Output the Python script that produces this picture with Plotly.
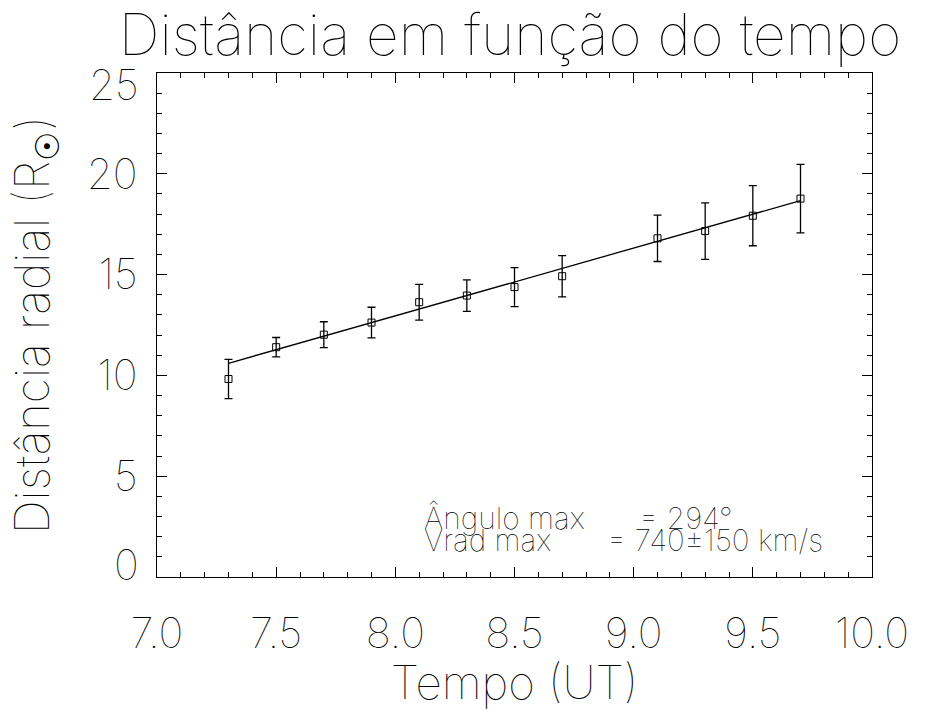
import plotly.graph_objects as go

# Observed radial distance of the front versus time
tempo = [7.3, 7.5, 7.7, 7.9, 8.1, 8.3, 8.5, 8.7, 9.1, 9.3, 9.5, 9.7]
distancia = [9.82, 11.40, 12.02, 12.62, 13.63, 13.96, 14.38, 14.92, 16.80, 17.16, 17.92, 18.77]
erro = [0.97, 0.48, 0.64, 0.76, 0.89, 0.78, 0.97, 1.02, 1.15, 1.40, 1.49, 1.70]

# Linear fit endpoints
ajuste_t = [7.3, 9.7]
ajuste_d = [10.60, 18.67]

x_ticks = [7.0, 7.5, 8.0, 8.5, 9.0, 9.5, 10.0]
x_labels = ["7.0", "7.5", "8.0", "8.5", "9.0", "9.5", "10.0"]
y_ticks = [5, 10, 15, 20]
y_labels = ["5", "10", "15", "20"]

FONT = "Inter"
W = 100

fig = go.Figure()

fig.add_trace(go.Scatter(
    x=ajuste_t, y=ajuste_d, mode="lines",
    line=dict(color="black", width=1.3), showlegend=False, hoverinfo="skip",
))

fig.add_trace(go.Scatter(
    x=tempo, y=distancia, mode="markers",
    marker=dict(symbol="square-open", size=7, color="black", line=dict(width=1)),
    error_y=dict(type="data", array=erro, visible=True, color="black",
                 thickness=1.3, width=4),
    showlegend=False,
))

axis_font = dict(family=FONT, size=42, color="black", weight=W)

fig.update_xaxes(
    range=[7.0, 10.0], tickvals=x_ticks, ticktext=x_labels,
    ticks="inside", ticklen=10, tickwidth=1, tickcolor="black",
    minor=dict(dtick=0.1, ticks="inside", ticklen=5, tickwidth=1, tickcolor="black"),
    showline=True, linecolor="black", linewidth=1, mirror="ticks",
    showgrid=False, zeroline=False, tickfont=axis_font, ticklabelstandoff=20,
    title=dict(text="Tempo (UT)", font=dict(family=FONT, size=46, color="black", weight=W),
               standoff=6),
)

fig.update_yaxes(
    range=[0, 25], tickvals=y_ticks, ticktext=y_labels,
    ticks="inside", ticklen=10, tickwidth=1, tickcolor="black",
    minor=dict(dtick=1, ticks="inside", ticklen=5, tickwidth=1, tickcolor="black"),
    showline=True, linecolor="black", linewidth=1, mirror="ticks",
    showgrid=False, zeroline=False, tickfont=axis_font, ticklabelstandoff=10,
    title=dict(text="Distância radial (R<sub>☉</sub>)",
               font=dict(family=FONT, size=47, color="black", weight=W), standoff=22),
)

# End labels of the y axis sit inside the frame edges
for val, anchor, shift in [(25, "top", 16), (0, "bottom", -15)]:
    fig.add_annotation(
        x=0, xref="paper", y=val, yref="y", text=str(val), showarrow=False,
        xanchor="right", yanchor=anchor, xshift=-16, yshift=shift,
        font=axis_font,
    )

note_font = dict(family=FONT, size=30, color="black", weight=W)
notes = [
    (8.112, 2.95, "Ângulo max"),
    (9.014, 2.95, "= 294°"),
    (8.112, 1.82, "Vrad max"),
    (8.880, 1.82, "= 740±150 km/s"),
]
for nx, ny, txt in notes:
    fig.add_annotation(x=nx, y=ny, text=txt, showarrow=False,
                       xanchor="left", yanchor="middle", font=note_font)

fig.update_layout(
    width=947, height=710,
    margin=dict(l=157, r=75, t=73, b=133),
    paper_bgcolor="white", plot_bgcolor="white",
    title=dict(text="Distância em função do tempo", x=510 / 947, xanchor="center",
               y=1 - 35 / 710, yanchor="middle",
               font=dict(family=FONT, size=57, color="black", weight=W)),
)

fig.write_html("out.html")
